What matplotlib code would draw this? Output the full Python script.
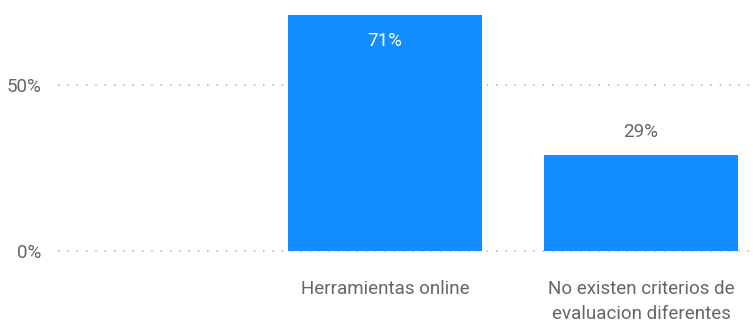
import matplotlib
matplotlib.use("Agg")
import matplotlib.pyplot as plt
from matplotlib.ticker import FuncFormatter

plt.rcParams['font.family'] = ['Roboto', 'DejaVu Sans']

# Data
categories = ["Herramientas online", "No existen criterios de\nevaluacion diferentes"]
values = [71, 29]
yticks = [0, 50]

BAR_COLOR = "#118DFF"
TEXT_GRAY = "#666666"
FS = 13.5

fig = plt.figure(figsize=(7.53, 3.28), dpi=100)
ax = fig.add_axes([58 / 753, 77 / 328, 1 - 58 / 753, 251 / 328])

x = [1, 2]
bars = ax.bar(x, values, width=0.758, color=BAR_COLOR, zorder=3)

ax.set_xlim(-0.277, 2.4375)
ax.set_ylim(0, 75.6)

ax.set_yticks(yticks)
ax.yaxis.set_major_formatter(FuncFormatter(lambda v, _: f"{v:.0f}%"))
ax.set_xticks(x)
ax.set_xticklabels(categories, linespacing=1.5)

ax.tick_params(axis='y', length=0, pad=12, labelsize=FS, labelcolor=TEXT_GRAY)
ax.tick_params(axis='x', length=0, pad=21, labelsize=FS, labelcolor=TEXT_GRAY)

ax.grid(axis='y', color="#B0B0B0", linestyle=(0, (1, 5.1)), linewidth=1.1, zorder=0)
ax.grid(axis='x', visible=False)
for gl in ax.get_ygridlines():
    gl.set_clip_on(False)
for s in ax.spines.values():
    s.set_visible(False)

# Value labels: inside the bar when tall, above it otherwise
for b, v in zip(bars, values):
    cx = b.get_x() + b.get_width() / 2
    if v > 50:
        ax.annotate(f"{v}%", (cx, v), xytext=(0, -12), textcoords="offset points",
                    ha="center", va="top", color="white", fontsize=FS)
    else:
        ax.annotate(f"{v}%", (cx, v), xytext=(0, 10), textcoords="offset points",
                    ha="center", va="bottom", color=TEXT_GRAY, fontsize=FS)

fig.savefig("out.png", dpi=100)
